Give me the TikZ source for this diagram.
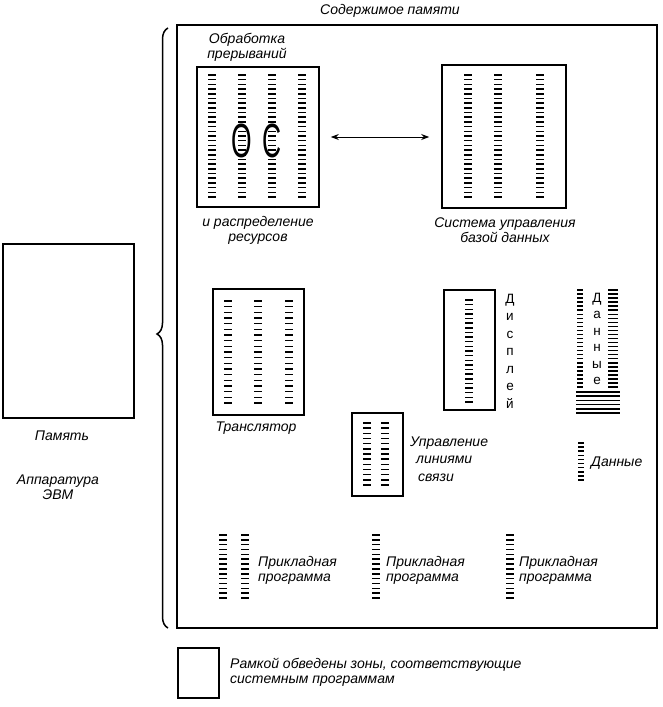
\documentclass[tikz,border=0pt]{standalone}
\usepackage{fontspec}
\setmainfont{Liberation Sans}
\usetikzlibrary{decorations.pathreplacing,arrows.meta}

\tikzset{
  zone/.style={draw,line width=1.6pt,inner sep=0pt},
  tick/.style={line width=1.5pt},
  lbl/.style={font=\itshape\fontsize{14}{15}\selectfont,inner sep=0pt},
  vlbl/.style={font=\fontsize{13.5}{16.5}\selectfont,inner sep=0pt,align=center},
  big/.style={font=\fontsize{48}{48}\selectfont,inner sep=0pt,xscale=0.55},
}
\newcommand{\ticks}[5]{\foreach \k in {0,...,#4}{\draw[tick] ({#1-#5},{#2+(#3-#2)*\k/#4}) -- ++({2*#5},0);}}

\begin{document}
\begin{tikzpicture}[x=1pt,y=-1pt]
\useasboundingbox (0,0) rectangle (663,707);
\node[lbl] (title) at (390,11) {Содержимое памяти};
\node[zone,line width=1.8pt,minimum width=480,minimum height=603] (frame) at (417,326.5) {};
\draw[line width=1.5pt,decorate,decoration={brace,amplitude=11pt,aspect=0.49}] (168,628) -- (168,28);

\node[zone,minimum width=131,minimum height=174] (mem) at (68.5,331) {};
\node[lbl] (memlbl) at (62,436) {Память};
\node[lbl,align=center] (hw) at (58,487) {Аппаратура\\ЭВМ};

\node[lbl,align=center] (irq) at (247,47.5) {Обработка\\прерываний};
\node[zone,minimum width=122,minimum height=140] (os) at (258,137) {};
\foreach \c in {212,242,272,302}{\ticks{\c}{75}{197}{26}{4}}
\node[big] (o) at (242,141) {О};
\node[big] (s) at (272,141) {С};
\node[lbl,align=center] (res) at (258,230) {и распределение\\ресурсов};

\node[zone,minimum width=124,minimum height=143] (db) at (504,136.5) {};
\foreach \c in {468,498,540}{\ticks{\c}{75}{197}{26}{4}}
\node[lbl,align=center] (dbl) at (505,230) {Система управления\\базой данных};
\draw[{Stealth[length=8pt,width=6pt]}-{Stealth[length=8pt,width=6pt]},line width=1pt,shorten <=11pt,shorten >=12pt] (os.east) -- (os.east -| db.west);

\node[zone,minimum width=91,minimum height=126] (tr) at (258.5,352) {};
\foreach \c in {228,258,289}{\ticks{\c}{301}{403}{18}{4}}
\node[lbl] (trl) at (256,428) {Транслятор};

\node[zone,minimum width=51,minimum height=120] (disp) at (469.5,350) {};
\ticks{469}{300}{402}{22}{4}
\node[vlbl,font=\fontsize{13.5}{17.5}\selectfont] (displ) at (510,351) {Д\\и\\с\\п\\л\\е\\й};

\ticks{580}{290}{387}{24}{3}
\ticks{613}{290}{387}{24}{5}
\foreach \y in {392,396.2,...,413}{\draw[tick] (576,\y) -- (620,\y);}
\node[vlbl] (datav) at (597,339) {Д\\а\\н\\н\\ы\\е};
\ticks{581}{443}{480}{9}{3}
\node[lbl,anchor=west] (data) at (591,463) {Данные};

\node[zone,minimum width=51,minimum height=83] (comm) at (377.5,454.5) {};
\foreach \c in {367,385}{\ticks{\c}{423}{485}{12}{4}}
\node[lbl,anchor=west,align=left,font=\itshape\fontsize{14}{17.5}\selectfont] (comml) at (410,459) {Управление\\\hspace*{6pt}линиями\\\hspace*{8pt}связи};

\foreach \c in {223,245}{\ticks{\c}{535}{598}{13}{4}}
\node[lbl,anchor=west,align=left] (app1) at (258,570) {Прикладная\\программа};
\ticks{376}{535}{598}{13}{4}
\node[lbl,anchor=west,align=left] (app2) at (386,570) {Прикладная\\программа};
\ticks{510}{535}{598}{13}{4}
\node[lbl,anchor=west,align=left] (app3) at (519,570) {Прикладная\\программа};

\node[zone,minimum width=41,minimum height=50] (key) at (198.5,673) {};
\node[lbl,anchor=west,align=left] (keyl) at (230,672) {Рамкой обведены зоны, соответствующие\\системным программам};
\end{tikzpicture}
\end{document}
